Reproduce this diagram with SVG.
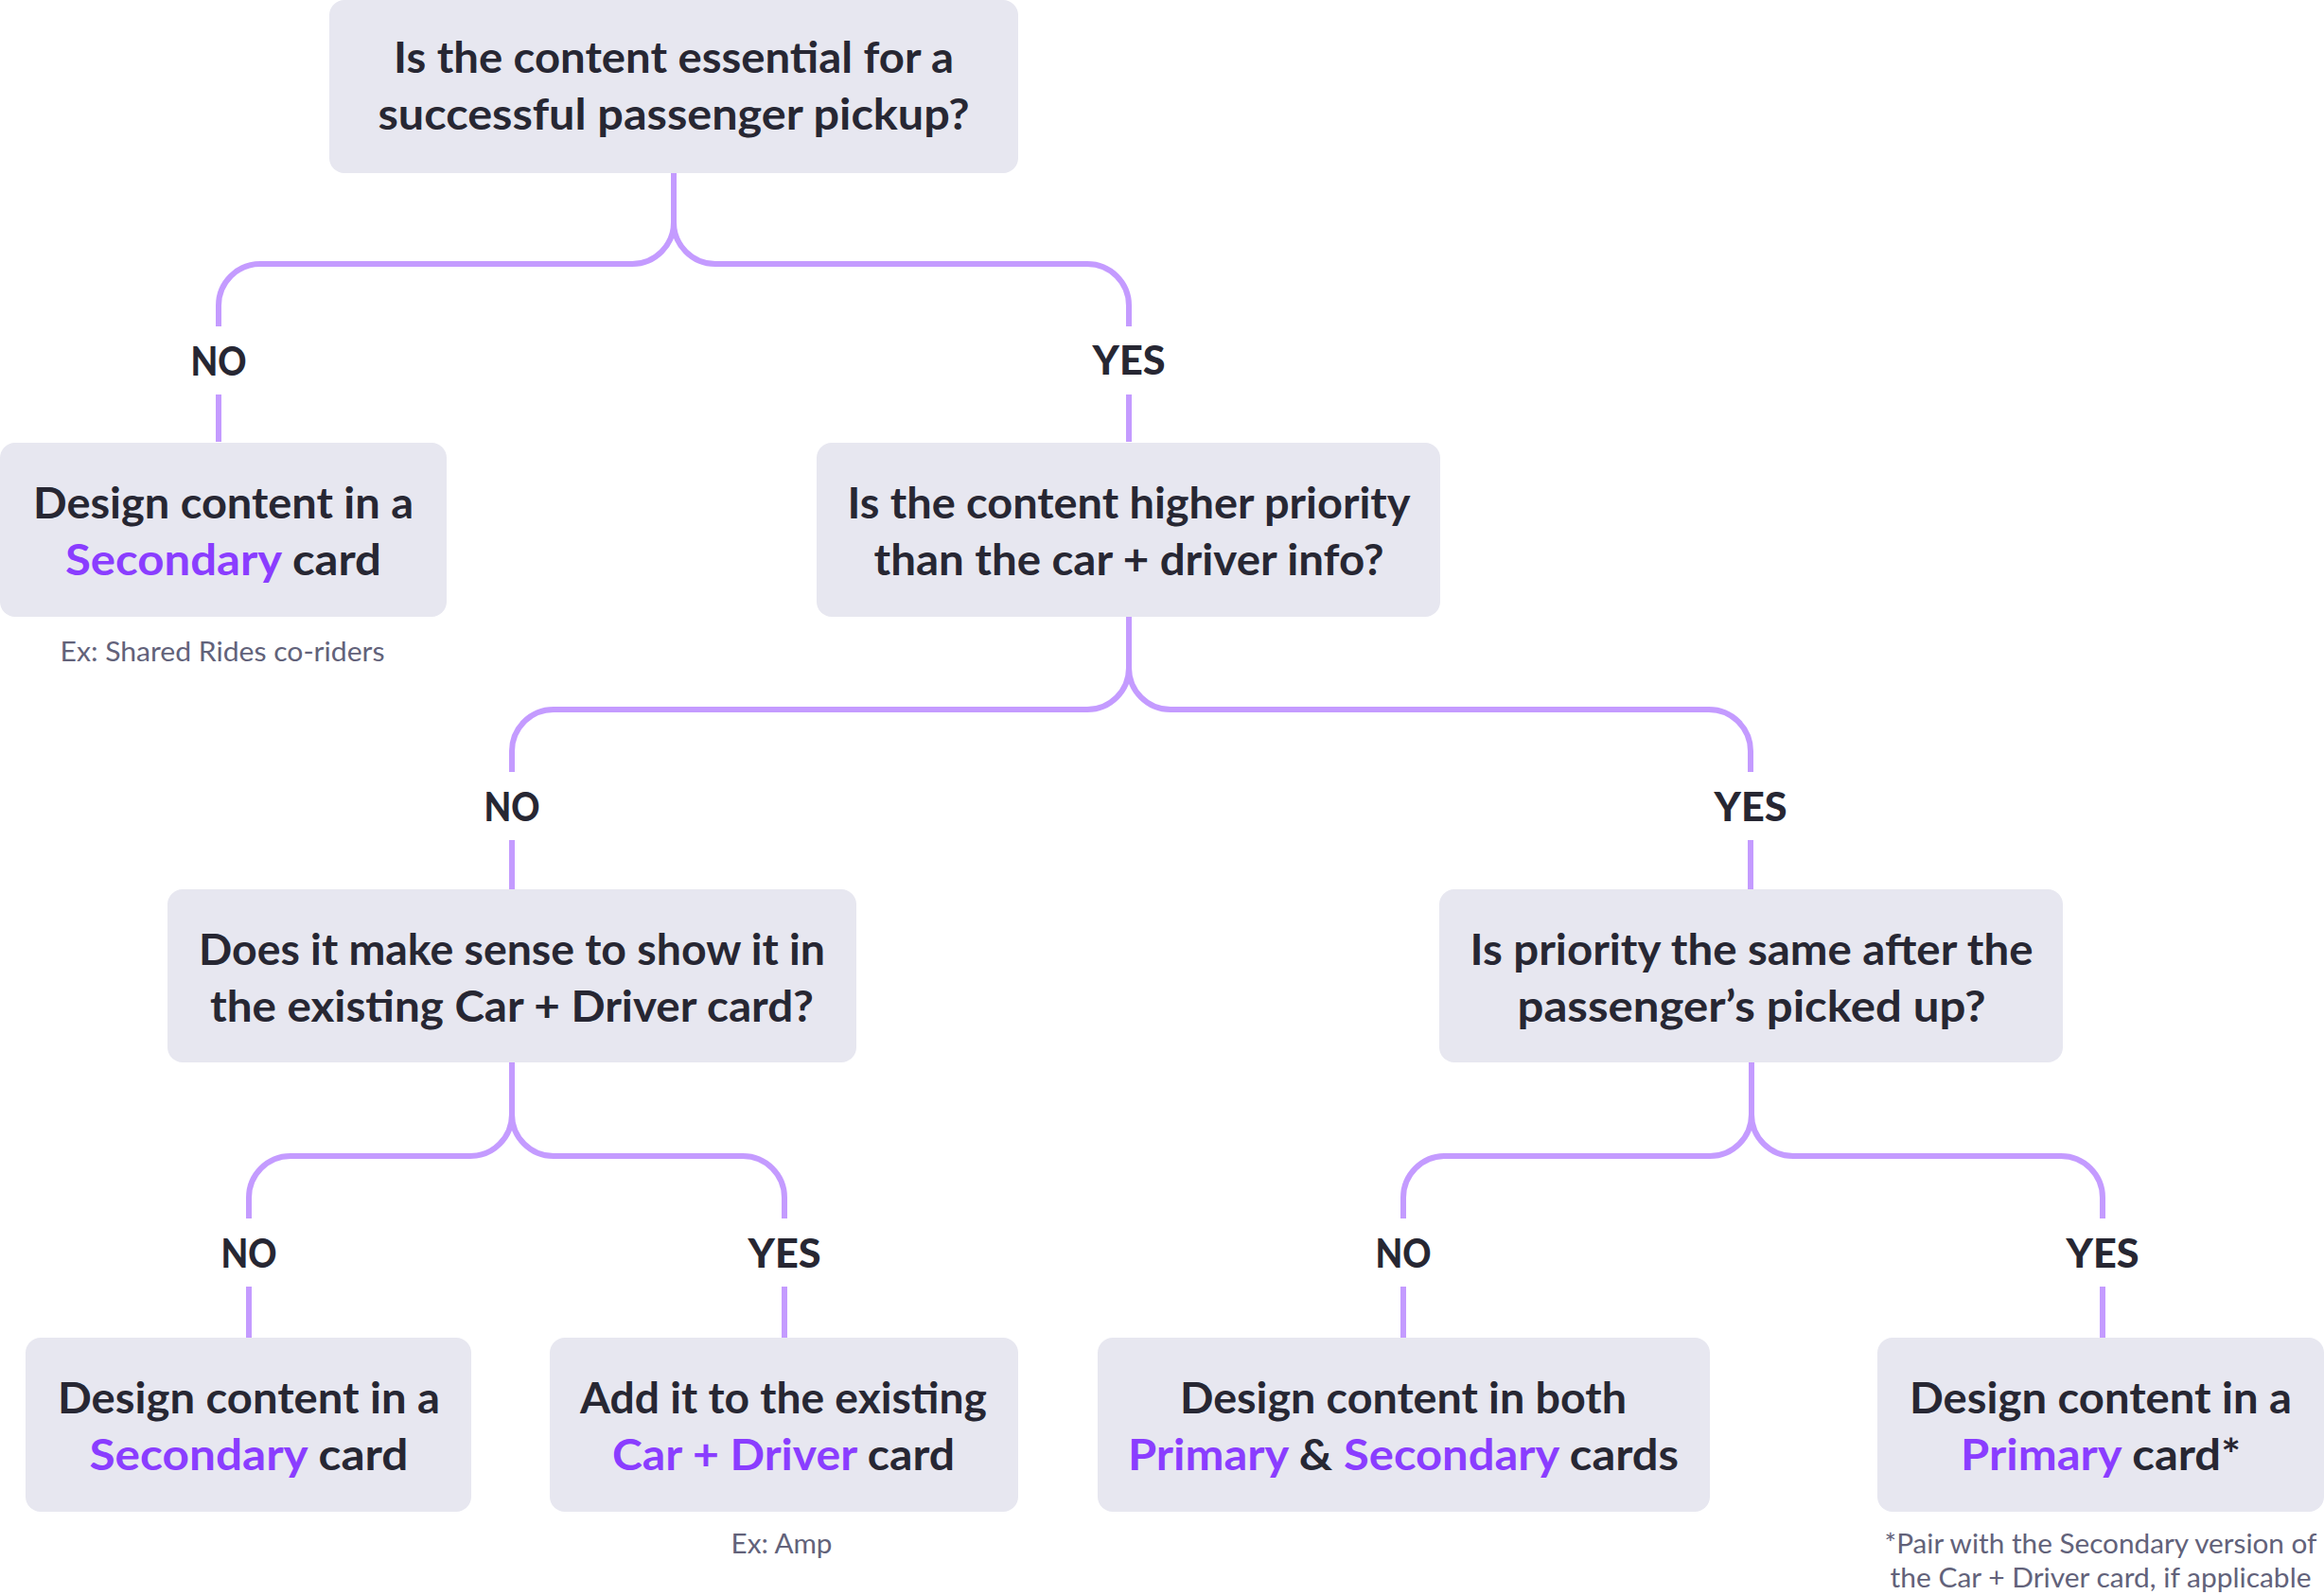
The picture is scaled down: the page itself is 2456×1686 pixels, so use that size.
<svg xmlns="http://www.w3.org/2000/svg" width="2456" height="1686" viewBox="0 0 2456 1686">
<style>
.box{fill:#E7E7F0}
.t{font-family:Lato,"Noto Sans",sans-serif;font-weight:700;font-size:46px;fill:#272733;text-anchor:middle}
.p{fill:#8A3DFF}
.lbl{font-family:Lato,"Noto Sans",sans-serif;font-weight:900;font-size:42px;fill:#272733;text-anchor:middle}
.ex{font-family:Lato,"Noto Sans",sans-serif;font-weight:400;font-size:28px;fill:#62627A;text-anchor:middle}
.c{fill:none;stroke:#C49BFF;stroke-width:6}
</style>
<rect width="2456" height="1686" fill="#FFFFFF"/>
<g id="connectors">
<path class="c" d="M712 183 V235 A44 44 0 0 1 668 279 H275 A44 44 0 0 0 231 323 V345 M231 417 V467"/>
<path class="c" d="M712 235 A44 44 0 0 0 756 279 H1149 A44 44 0 0 1 1193 323 V345 M1193 417 V467"/>
<path class="c" d="M1193 652 V706 A44 44 0 0 1 1149 750 H585 A44 44 0 0 0 541 794 V816 M541 888 V940"/>
<path class="c" d="M1193 706 A44 44 0 0 0 1237 750 H1806 A44 44 0 0 1 1850 794 V816 M1850 888 V940"/>
<path class="c" d="M541 1123 V1178 A44 44 0 0 1 497 1222 H307 A44 44 0 0 0 263 1266 V1288 M263 1360 V1414"/>
<path class="c" d="M541 1178 A44 44 0 0 0 585 1222 H785 A44 44 0 0 1 829 1266 V1288 M829 1360 V1414"/>
<path class="c" d="M1851 1123 V1178 A44 44 0 0 1 1807 1222 H1527 A44 44 0 0 0 1483 1266 V1288 M1483 1360 V1414"/>
<path class="c" d="M1851 1178 A44 44 0 0 0 1895 1222 H2178 A44 44 0 0 1 2222 1266 V1288 M2222 1360 V1414"/>
<text class="lbl" x="231" y="397" textLength="59" lengthAdjust="spacingAndGlyphs">NO</text>
<text class="lbl" x="1193" y="396" textLength="77" lengthAdjust="spacingAndGlyphs">YES</text>
<text class="lbl" x="541" y="868" textLength="59" lengthAdjust="spacingAndGlyphs">NO</text>
<text class="lbl" x="1850" y="868" textLength="77" lengthAdjust="spacingAndGlyphs">YES</text>
<text class="lbl" x="263" y="1340" textLength="59" lengthAdjust="spacingAndGlyphs">NO</text>
<text class="lbl" x="829" y="1340" textLength="77" lengthAdjust="spacingAndGlyphs">YES</text>
<text class="lbl" x="1483" y="1340" textLength="59" lengthAdjust="spacingAndGlyphs">NO</text>
<text class="lbl" x="2222" y="1340" textLength="77" lengthAdjust="spacingAndGlyphs">YES</text>
</g>
<g id="q1">
<rect class="box" x="348" y="0" width="728" height="183" rx="16"/>
<text class="t" x="712" y="77" textLength="592" lengthAdjust="spacingAndGlyphs">Is the content essential for a</text>
<text class="t" x="712" y="137" textLength="625" lengthAdjust="spacingAndGlyphs">successful passenger pickup?</text>
</g>
<g id="a1">
<rect class="box" x="0" y="468" width="472" height="184" rx="16"/>
<text class="t" x="236" y="548" textLength="402" lengthAdjust="spacingAndGlyphs">Design content in a</text>
<text class="t" x="236" y="608" textLength="334" lengthAdjust="spacingAndGlyphs"><tspan class="p">Secondary</tspan> card</text>
<text class="ex" x="235" y="699" textLength="343" lengthAdjust="spacingAndGlyphs">Ex: Shared Rides co-riders</text>
</g>
<g id="q2">
<rect class="box" x="863" y="468" width="659" height="184" rx="16"/>
<text class="t" x="1193" y="548" textLength="595" lengthAdjust="spacingAndGlyphs">Is the content higher priority</text>
<text class="t" x="1193" y="608" textLength="539" lengthAdjust="spacingAndGlyphs">than the car + driver info?</text>
</g>
<g id="q3">
<rect class="box" x="177" y="940" width="728" height="183" rx="16"/>
<text class="t" x="541" y="1020" textLength="662" lengthAdjust="spacingAndGlyphs">Does it make sense to show it in</text>
<text class="t" x="541" y="1080" textLength="638" lengthAdjust="spacingAndGlyphs">the existing Car + Driver card?</text>
</g>
<g id="q4">
<rect class="box" x="1521" y="940" width="659" height="183" rx="16"/>
<text class="t" x="1851" y="1020" textLength="595" lengthAdjust="spacingAndGlyphs">Is priority the same after the</text>
<text class="t" x="1851" y="1080" textLength="495" lengthAdjust="spacingAndGlyphs">passenger’s picked up?</text>
</g>
<g id="a2">
<rect class="box" x="27" y="1414" width="471" height="184" rx="16"/>
<text class="t" x="263" y="1494" textLength="404" lengthAdjust="spacingAndGlyphs">Design content in a</text>
<text class="t" x="263" y="1554" textLength="337" lengthAdjust="spacingAndGlyphs"><tspan class="p">Secondary</tspan> card</text>
</g>
<g id="a3">
<rect class="box" x="581" y="1414" width="495" height="184" rx="16"/>
<text class="t" x="828" y="1494" textLength="430" lengthAdjust="spacingAndGlyphs">Add it to the existing</text>
<text class="t" x="828" y="1554" textLength="362" lengthAdjust="spacingAndGlyphs"><tspan class="p">Car + Driver</tspan> card</text>
<text class="ex" x="826" y="1642" textLength="107" lengthAdjust="spacingAndGlyphs">Ex: Amp</text>
</g>
<g id="a4">
<rect class="box" x="1160" y="1414" width="647" height="184" rx="16"/>
<text class="t" x="1483" y="1494" textLength="472" lengthAdjust="spacingAndGlyphs">Design content in both</text>
<text class="t" x="1483" y="1554" textLength="582" lengthAdjust="spacingAndGlyphs"><tspan class="p">Primary</tspan> &amp; <tspan class="p">Secondary</tspan> cards</text>
</g>
<g id="a5">
<rect class="box" x="1984" y="1414" width="472" height="184" rx="16"/>
<text class="t" x="2220" y="1494" textLength="404" lengthAdjust="spacingAndGlyphs">Design content in a</text>
<text class="t" x="2220" y="1554" textLength="296" lengthAdjust="spacingAndGlyphs"><tspan class="p">Primary</tspan> card*</text>
<text class="ex" x="2220" y="1642" textLength="457" lengthAdjust="spacingAndGlyphs">*Pair with the Secondary version of</text>
<text class="ex" x="2220" y="1678" textLength="445" lengthAdjust="spacingAndGlyphs">the Car + Driver card, if applicable</text>
</g>
</svg>
